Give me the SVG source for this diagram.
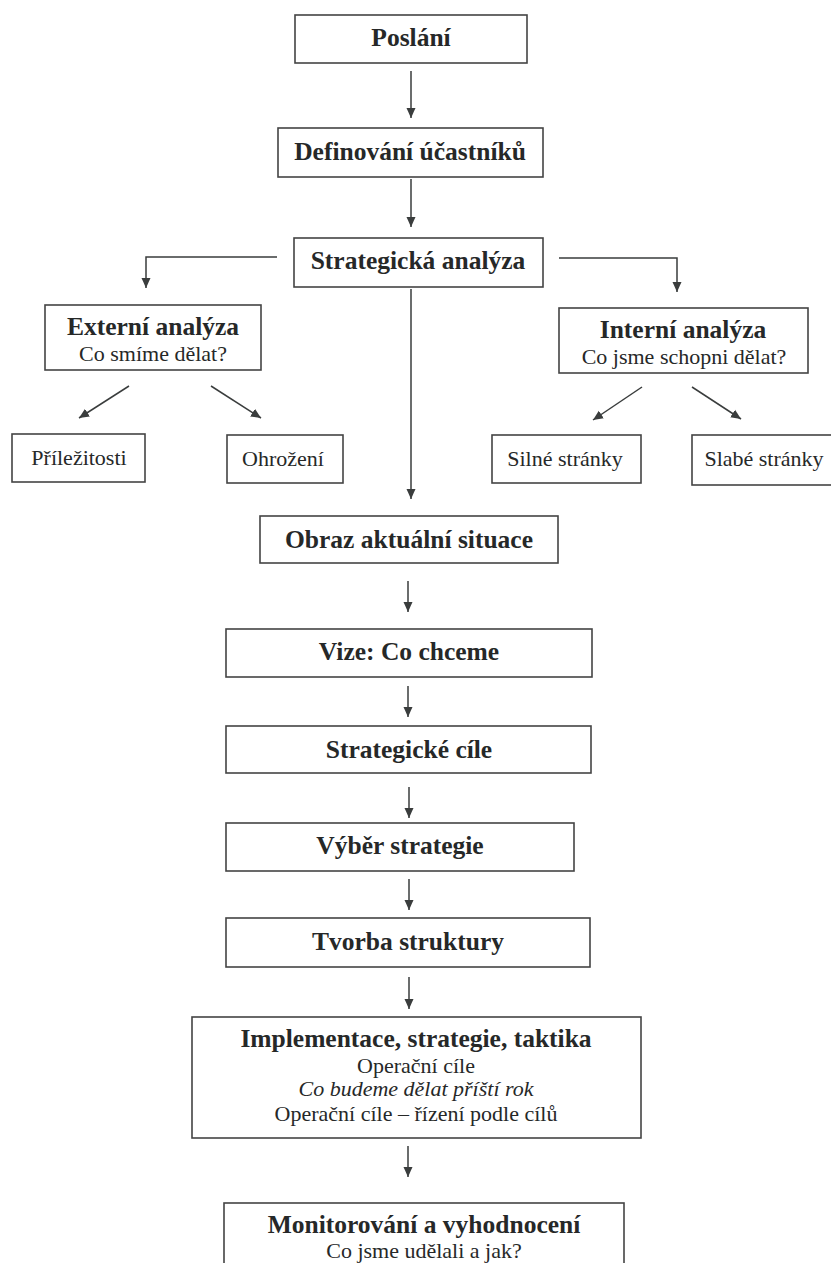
<svg xmlns="http://www.w3.org/2000/svg" width="831" height="1263" viewBox="0 0 831 1263">
<defs>
<marker id="ah" markerWidth="10" markerHeight="10" viewBox="0 0 10 10" refX="10" refY="5" orient="auto" markerUnits="userSpaceOnUse">
<path d="M0,0.5 L10,5 L0,9.5 Z" fill="#3a3d3d"/>
</marker>
<style>
.box{fill:#fff;stroke:#444;stroke-width:1.6}
.t{font-family:"Liberation Serif","Times New Roman",serif;font-weight:bold;font-size:25.5px;fill:#262828;text-anchor:middle}
.s{font-family:"Liberation Serif","Times New Roman",serif;font-size:22px;fill:#262828;text-anchor:middle}
.i{font-style:italic}
.c{fill:none;stroke:#3a3d3d;stroke-width:1.5;marker-end:url(#ah)}
</style>
</defs>
<rect width="831" height="1263" fill="#fff"/>
<g id="connectors">
<line class="c" x1="411" y1="71" x2="411" y2="118"/>
<line class="c" x1="411" y1="179" x2="411" y2="227"/>
<polyline class="c" points="277,257 146,257 146,288"/>
<polyline class="c" points="559,258 677,258 677,292"/>
<line class="c" x1="411" y1="289" x2="411" y2="499"/>
<line class="c" x1="129" y1="386" x2="79" y2="418"/>
<line class="c" x1="211" y1="386" x2="261" y2="418"/>
<line class="c" x1="642" y1="387" x2="593" y2="420"/>
<line class="c" x1="692" y1="387" x2="741" y2="419"/>
<line class="c" x1="408" y1="581" x2="408" y2="612"/>
<line class="c" x1="408" y1="686" x2="408" y2="717"/>
<line class="c" x1="409" y1="787" x2="409" y2="818"/>
<line class="c" x1="409" y1="879" x2="409" y2="910"/>
<line class="c" x1="409" y1="977" x2="409" y2="1009"/>
<line class="c" x1="408" y1="1146" x2="408" y2="1177"/>
</g>
<g id="poslani"><rect class="box" x="295" y="15" width="232" height="48"/><text class="t" x="411" y="46">Poslání</text></g>
<g id="definovani"><rect class="box" x="278" y="128" width="265" height="49"/><text class="t" x="410" y="160">Definování účastníků</text></g>
<g id="strategicka"><rect class="box" x="294" y="238" width="249" height="49"/><text class="t" x="418" y="269">Strategická analýza</text></g>
<g id="externi"><rect class="box" x="45" y="305" width="216" height="65"/><text class="t" x="153" y="335">Externí analýza</text><text class="s" x="153" y="361">Co smíme dělat?</text></g>
<g id="interni"><rect class="box" x="559" y="308" width="249" height="65"/><text class="t" x="683" y="338">Interní analýza</text><text class="s" x="684" y="364">Co jsme schopni dělat?</text></g>
<g id="prilezitosti"><rect class="box" x="12" y="434" width="133" height="48"/><text class="s" x="79" y="465">Příležitosti</text></g>
<g id="ohrozeni"><rect class="box" x="227" y="435" width="116" height="48"/><text class="s" x="283" y="466">Ohrožení</text></g>
<g id="silne"><rect class="box" x="492" y="435" width="149" height="48"/><text class="s" x="565" y="466">Silné stránky</text></g>
<g id="slabe"><rect class="box" x="692" y="435" width="145" height="50"/><text class="s" x="764" y="466">Slabé stránky</text></g>
<g id="obraz"><rect class="box" x="260" y="516" width="298" height="47"/><text class="t" x="409" y="548">Obraz aktuální situace</text></g>
<g id="vize"><rect class="box" x="226" y="629" width="366" height="48"/><text class="t" x="409" y="660">Vize: Co chceme</text></g>
<g id="cile"><rect class="box" x="226" y="726" width="365" height="47"/><text class="t" x="409" y="758">Strategické cíle</text></g>
<g id="vyber"><rect class="box" x="226" y="823" width="348" height="48"/><text class="t" x="400" y="854">Výběr strategie</text></g>
<g id="tvorba"><rect class="box" x="226" y="918" width="364" height="49"/><text class="t" x="408" y="950">Tvorba struktury</text></g>
<g id="implementace"><rect class="box" x="192" y="1017" width="449" height="121"/><text class="t" x="416" y="1047">Implementace, strategie, taktika</text><text class="s" x="416" y="1073">Operační cíle</text><text class="s i" x="416" y="1096">Co budeme dělat příští rok</text><text class="s" x="416" y="1121">Operační cíle – řízení podle cílů</text></g>
<g id="monitorovani"><rect class="box" x="224" y="1203" width="400" height="80"/><text class="t" x="424" y="1233">Monitorování a vyhodnocení</text><text class="s" x="424" y="1258">Co jsme udělali a jak?</text></g>
</svg>
